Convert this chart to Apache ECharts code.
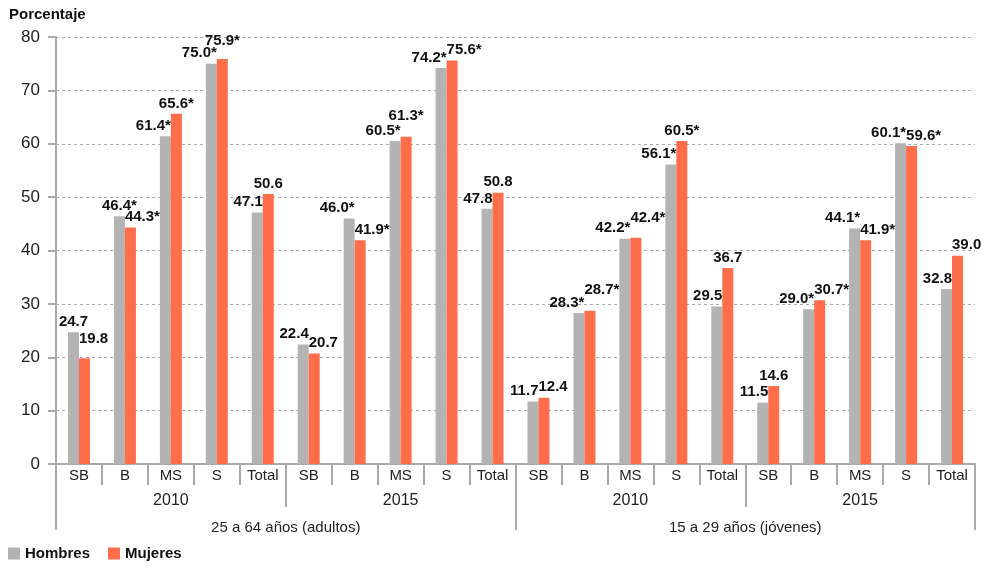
<!DOCTYPE html>
<html>
<head>
<meta charset="utf-8">
<script src="https://cdn.jsdelivr.net/npm/echarts@6/dist/echarts.min.js"></script>
<style>
  html, body { margin: 0; padding: 0; background: #fff; }
  #main { width: 985px; height: 566px; }
</style>
</head>
<body>
<div id="main"></div>
<script>
const categories = ['SB', 'B', 'MS', 'S', 'Total', 'SB', 'B', 'MS', 'S', 'Total',
  'SB', 'B', 'MS', 'S', 'Total', 'SB', 'B', 'MS', 'S', 'Total']
const years = ['2010', '2015', '2010', '2015']
const groups = ['25 a 64 años (adultos)', '15 a 29 años (jóvenes)']
const yTicks = [0, 10, 20, 30, 40, 50, 60, 70, 80]

const hombres = [24.7, 46.4, 61.4, 75.0, 47.1, 22.4, 46.0, 60.5, 74.2, 47.8,
  11.7, 28.3, 42.2, 56.1, 29.5, 11.5, 29.0, 44.1, 60.1, 32.8]
const mujeres = [19.8, 44.3, 65.6, 75.9, 50.6, 20.7, 41.9, 61.3, 75.6, 50.8,
  12.4, 28.7, 42.4, 60.5, 36.7, 14.6, 30.7, 41.9, 59.6, 39.0]
// 1 = diferencia significativa (asterisco)
const hombresStar = [0, 1, 1, 1, 0, 0, 1, 1, 1, 0, 0, 1, 1, 1, 0, 0, 1, 1, 1, 0]
const mujeresStar = [0, 1, 1, 1, 0, 0, 1, 1, 1, 0, 0, 1, 1, 1, 0, 0, 1, 1, 1, 0]

// label placement: c = centered, r = right edge of bar, l = left edge of bar
const hombresAlign = ['c', 'c', 'r', 'r', 'r', 'r', 'r', 'r', 'r', 'r',
  'r', 'r', 'r', 'r', 'r', 'r', 'r', 'r', 'r', 'r']
const mujeresAlign = ['l', 'l', 'c', 'c', 'c', 'l', 'l', 'c', 'l', 'c',
  'l', 'l', 'l', 'c', 'c', 'c', 'l', 'l', 'l', 'l']
// extra lift (px) of some labels so they clear the neighbour
const mujeresLift = [9, 0, 0, 8, 0, 0, 0, 10, 0, 0, 0, 10, 9, 0, 0, 0, 0, 0, 0, 0]

const font = '"Liberation Sans", Arial, Helvetica, sans-serif'
const barW = 11

function buildData (values, stars, aligns, lift) {
  return values.map((v, i) => {
    const a = aligns[i]
    const dy = lift ? -lift[i] : 0
    let label = { align: 'center', offset: [0, dy] }
    if (a === 'r') label = { align: 'right', offset: [barW / 2, dy] }
    if (a === 'l') label = { align: 'left', offset: [-barW / 2, dy] }
    return {
      value: v,
      label: {
        ...label,
        formatter: v.toFixed(1) + (stars[i] ? '*' : '')
      }
    }
  })
}

const myChart = echarts.init(document.getElementById('main'))

const labelStyle = {
  show: true,
  position: 'top',
  distance: 3,
  fontFamily: font,
  fontSize: 15,
  fontWeight: 'bold',
  color: '#111'
}

const option = {
  animation: false,
  title: {
    text: 'Porcentaje',
    left: 4,
    top: 2,
    textStyle: { fontFamily: font, fontSize: 15, fontWeight: 'bold', color: '#111' }
  },
  legend: {
    left: 3,
    top: 541,
    icon: 'rect',
    itemWidth: 12,
    itemHeight: 12,
    itemGap: 18,
    textStyle: { fontFamily: font, fontSize: 15, fontWeight: 'bold', color: '#111' },
    data: ['Hombres', 'Mujeres']
  },
  grid: {
    left: 56,
    right: 10,
    top: 37,
    bottom: 102,
    containLabel: false
  },
  xAxis: [
    {
      type: 'category',
      data: categories,
      position: 'bottom',
      axisLine: { lineStyle: { color: '#aaa', width: 2 } },
      axisTick: { show: true, interval: 0, length: 21, lineStyle: { color: '#aaa', width: 2 } },
      axisLabel: { interval: 0, margin: 4, fontFamily: font, fontSize: 15, color: '#222' }
    },
    {
      type: 'category',
      data: years,
      position: 'bottom',
      axisLine: { show: false },
      axisTick: { show: true, interval: 0, length: 43, lineStyle: { color: '#aaa', width: 2 } },
      axisLabel: { interval: 0, margin: 29, fontFamily: font, fontSize: 16, color: '#222' },
      splitLine: { show: false }
    },
    {
      type: 'category',
      data: groups,
      position: 'bottom',
      axisLine: { show: false },
      axisTick: { show: true, interval: 0, length: 66, lineStyle: { color: '#aaa', width: 2 } },
      axisLabel: { interval: 0, margin: 56, fontFamily: font, fontSize: 15, color: '#222' },
      splitLine: { show: false }
    }
  ],
  yAxis: {
    type: 'value',
    min: yTicks[0],
    max: yTicks[yTicks.length - 1],
    interval: 10,
    axisLine: { show: true, lineStyle: { color: '#aaa', width: 2 } },
    axisTick: { show: true, length: 8, lineStyle: { color: '#aaa', width: 2 } },
    axisLabel: { margin: 16, fontFamily: font, fontSize: 17, color: '#222' },
    splitLine: { lineStyle: { color: '#aaa', type: [3, 3], width: 1 } }
  },
  series: [
    {
      name: 'Hombres',
      type: 'bar',
      xAxisIndex: 0,
      barWidth: barW,
      barGap: '0%',
      itemStyle: { color: '#b3b3b3' },
      label: labelStyle,
      data: buildData(hombres, hombresStar, hombresAlign, null)
    },
    {
      name: 'Mujeres',
      type: 'bar',
      xAxisIndex: 0,
      barWidth: barW,
      barGap: '0%',
      itemStyle: { color: '#ff6e4a' },
      label: labelStyle,
      data: buildData(mujeres, mujeresStar, mujeresAlign, mujeresLift)
    }
  ]
}

myChart.setOption(option)
</script>
</body>
</html>
